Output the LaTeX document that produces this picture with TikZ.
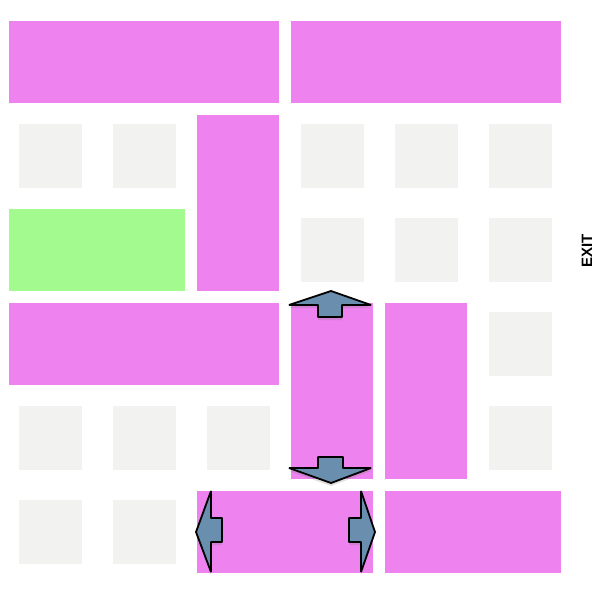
\documentclass[tikz,border=0pt]{standalone}
\usepackage{fontspec}
\setsansfont{Liberation Sans}
\usepackage{tikz}
\usetikzlibrary{positioning, shadows}
\definecolor{carpink}{HTML}{EE82EE}
\definecolor{cargreen}{HTML}{A3FA8E}
\definecolor{floorgrey}{HTML}{F2F2F1}
\definecolor{steel}{HTML}{6A8FAE}
\tikzstyle{car} = [rectangle, fill=carpink, inner sep=0pt, anchor=north west]
\tikzstyle{goal} = [car, fill=cargreen]
\tikzstyle{slot} = [rectangle, fill=floorgrey, inner sep=0pt, minimum width=63pt, minimum height=64pt]
\tikzstyle{move} = [draw=black, line width=1.8pt, fill=steel, line join=bevel, drop shadow={opacity=0.25, shadow xshift=0pt, shadow yshift=-3pt}]

\begin{document}
\begin{tikzpicture}[x=1pt, y=-1pt]
\useasboundingbox (0,0) rectangle (600,600);

% empty cells
\foreach \c/\r in {0/1,1/1,3/1,4/1,5/1,3/2,4/2,5/2,5/3,0/4,1/4,2/4,5/4,0/5,1/5}
  \node[slot] (slot-\c-\r) at ({50+94*\c},{62+94*\r}) {};

% cars
\node (h1) [car, minimum width=270pt, minimum height=82pt] at (9,21) {};
\node (h2) [car, minimum width=270pt, minimum height=82pt] at (291,21) {};
\node (v1) [car, minimum width=82pt, minimum height=176pt] at (197,115) {};
\node (red) [goal, minimum width=176pt, minimum height=82pt] at (9,209) {};
\node (h3) [car, minimum width=270pt, minimum height=82pt] at (9,303) {};
\node (v2) [car, minimum width=82pt, minimum height=176pt] at (291,303) {};
\node (v3) [car, minimum width=82pt, minimum height=176pt] at (385,303) {};
\node (h4) [car, minimum width=176pt, minimum height=82pt] at (197,491) {};
\node (h5) [car, minimum width=176pt, minimum height=82pt] at (385,491) {};

% moves
\draw[move] (331,291) -- (371,305) -- (342,305) -- (342,317) -- (318,317) -- (318,305) -- (289,305) -- cycle;
\draw[move] (331,483) -- (371,468) -- (343,468) -- (343,457) -- (318,457) -- (318,468) -- (289,468) -- cycle;
\draw[move] (196,532) -- (211,491) -- (211,518) -- (222,518) -- (222,542) -- (211,542) -- (211,572) -- cycle;
\draw[move] (375,532) -- (361,491) -- (361,518) -- (349,518) -- (349,542) -- (361,542) -- (361,572) -- cycle;

\node (exit) [rotate=90, font=\sffamily\bfseries\fontsize{15}{15}\selectfont] at (587,251) {EXIT};
\end{tikzpicture}
\end{document}
